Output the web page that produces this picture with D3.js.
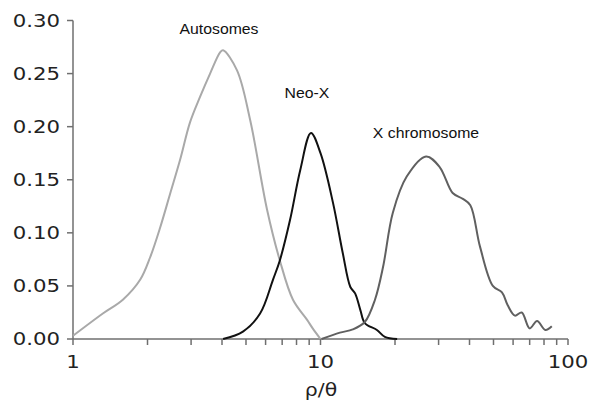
<!DOCTYPE html>
<html>
<head>
<meta charset="utf-8">
<script src="https://cdn.jsdelivr.net/npm/d3@7"></script>
<style>
  body { margin: 0; background: #fff; }
  svg { display: block; }
</style>
</head>
<body>
<svg id="chart" width="589" height="402"></svg>
<script>
// values: [rho/theta, frequency]
const autosomes = [
  [1, 0.003], [1.32, 0.024], [1.59, 0.037], [1.87, 0.056], [2.05, 0.077],
  [2.25, 0.105], [2.47, 0.137], [2.71, 0.169], [2.97, 0.204], [3.26, 0.228],
  [3.58, 0.25], [3.93, 0.27], [4.04, 0.272], [4.6, 0.253], [5.2, 0.206],
  [6.08, 0.122], [6.85, 0.074], [7.74, 0.037], [8.83, 0.018], [9.3, 0.010],
  [10, 0]
];
const neoX = [
  [4.04, 0], [4.86, 0.007], [5.7, 0.024], [6.43, 0.056], [6.85, 0.074],
  [7.53, 0.112], [8.28, 0.159], [9.15, 0.194], [10, 0.175], [11.24, 0.128],
  [12.3, 0.081], [13.2, 0.049], [13.8, 0.043], [14.5, 0.027], [15.1, 0.015],
  [16.9, 0.0085], [18.2, 0.002], [20.4, 0]
];
const xChrom = [
  [10.1, 0], [11.98, 0.006], [13.5, 0.009], [15.1, 0.016], [16.6, 0.037],
  [17.9, 0.068], [19.6, 0.119], [22.3, 0.153], [26.7, 0.172], [30.3, 0.162],
  [34.2, 0.1375], [37.6, 0.132], [40.3, 0.126], [44.1, 0.087], [49.7, 0.05],
  [54.1, 0.044], [57, 0.032], [61, 0.022], [65, 0.025], [70, 0.010],
  [75, 0.017], [81, 0.0085], [86, 0.012]
];

const yTicks = [0, 0.05, 0.10, 0.15, 0.20, 0.25, 0.30];
const xLabels = [1, 10, 100];
const xMinor = [2, 3, 4, 5, 6, 7, 8, 9, 20, 30, 40, 50, 60, 70, 80, 90];

const series = [
  { name: "Autosomes", data: autosomes, color: "#a9a9a9", label: [219, 34] },
  { name: "Neo-X", data: neoX, color: "#111111", label: [307, 98] },
  { name: "X chromosome", data: xChrom, color: "#606060", label: [426, 138] }
];

const svg = d3.select("#chart");

const x = d3.scaleLog().domain([1, 100]).range([73, 568]);
const y = d3.scaleLinear().domain([0, 0.30]).range([339, 20.5]);

const axisColor = "#6f6f6f";

// axes
svg.append("line")
  .attr("x1", x(1)).attr("x2", x(1))
  .attr("y1", y(0.30)).attr("y2", y(0))
  .attr("stroke", axisColor).attr("stroke-width", 1.5);

svg.append("line")
  .attr("x1", x(1)).attr("x2", x(100))
  .attr("y1", y(0)).attr("y2", y(0))
  .attr("stroke", axisColor).attr("stroke-width", 1.5);

// y ticks + labels
svg.selectAll(".ytick")
  .data(yTicks)
  .join("line")
  .attr("class", "ytick")
  .attr("x1", x(1) - 6).attr("x2", x(1))
  .attr("y1", d => y(d)).attr("y2", d => y(d))
  .attr("stroke", axisColor).attr("stroke-width", 1.5);

svg.selectAll(".ylab")
  .data(yTicks)
  .join("text")
  .attr("class", "ylab")
  .attr("transform", d => `translate(60,${y(d) + 6}) scale(1.25,1)`)
  .attr("text-anchor", "end")
  .attr("font-family", "DejaVu Sans")
  .attr("font-size", 17)
  .attr("fill", "#222")
  .text(d => d.toFixed(2));

// x ticks (major and minor look the same)
svg.selectAll(".xtick")
  .data(xLabels.concat(xMinor))
  .join("line")
  .attr("class", "xtick")
  .attr("x1", d => x(d)).attr("x2", d => x(d))
  .attr("y1", y(0)).attr("y2", y(0) + 6)
  .attr("stroke", axisColor).attr("stroke-width", 1.5);

svg.selectAll(".xlab")
  .data(xLabels)
  .join("text")
  .attr("class", "xlab")
  .attr("transform", d => `translate(${x(d)},368) scale(1.25,1)`)
  .attr("text-anchor", "middle")
  .attr("font-family", "DejaVu Sans")
  .attr("font-size", 17)
  .attr("fill", "#222")
  .text(d => d);

svg.append("text")
  .attr("transform", "translate(321,396) scale(1.2,1)")
  .attr("text-anchor", "middle")
  .attr("font-family", "DejaVu Sans")
  .attr("font-size", 17)
  .attr("fill", "#222")
  .text("ρ/θ");

// curves
const line = d3.line()
  .x(d => x(d[0]))
  .y(d => y(d[1]))
  .curve(d3.curveCatmullRom.alpha(0.5));

svg.selectAll(".curve")
  .data(series)
  .join("path")
  .attr("class", "curve")
  .attr("d", d => line(d.data))
  .attr("fill", "none")
  .attr("stroke", d => d.color)
  .attr("stroke-width", 2);

svg.selectAll(".clabel")
  .data(series)
  .join("text")
  .attr("class", "clabel")
  .attr("transform", d => `translate(${d.label[0]},${d.label[1]}) scale(1.13,1)`)
  .attr("text-anchor", "middle")
  .attr("font-family", "Liberation Sans")
  .attr("font-size", 14)
  .attr("fill", "#111")
  .text(d => d.name);
</script>
</body>
</html>
